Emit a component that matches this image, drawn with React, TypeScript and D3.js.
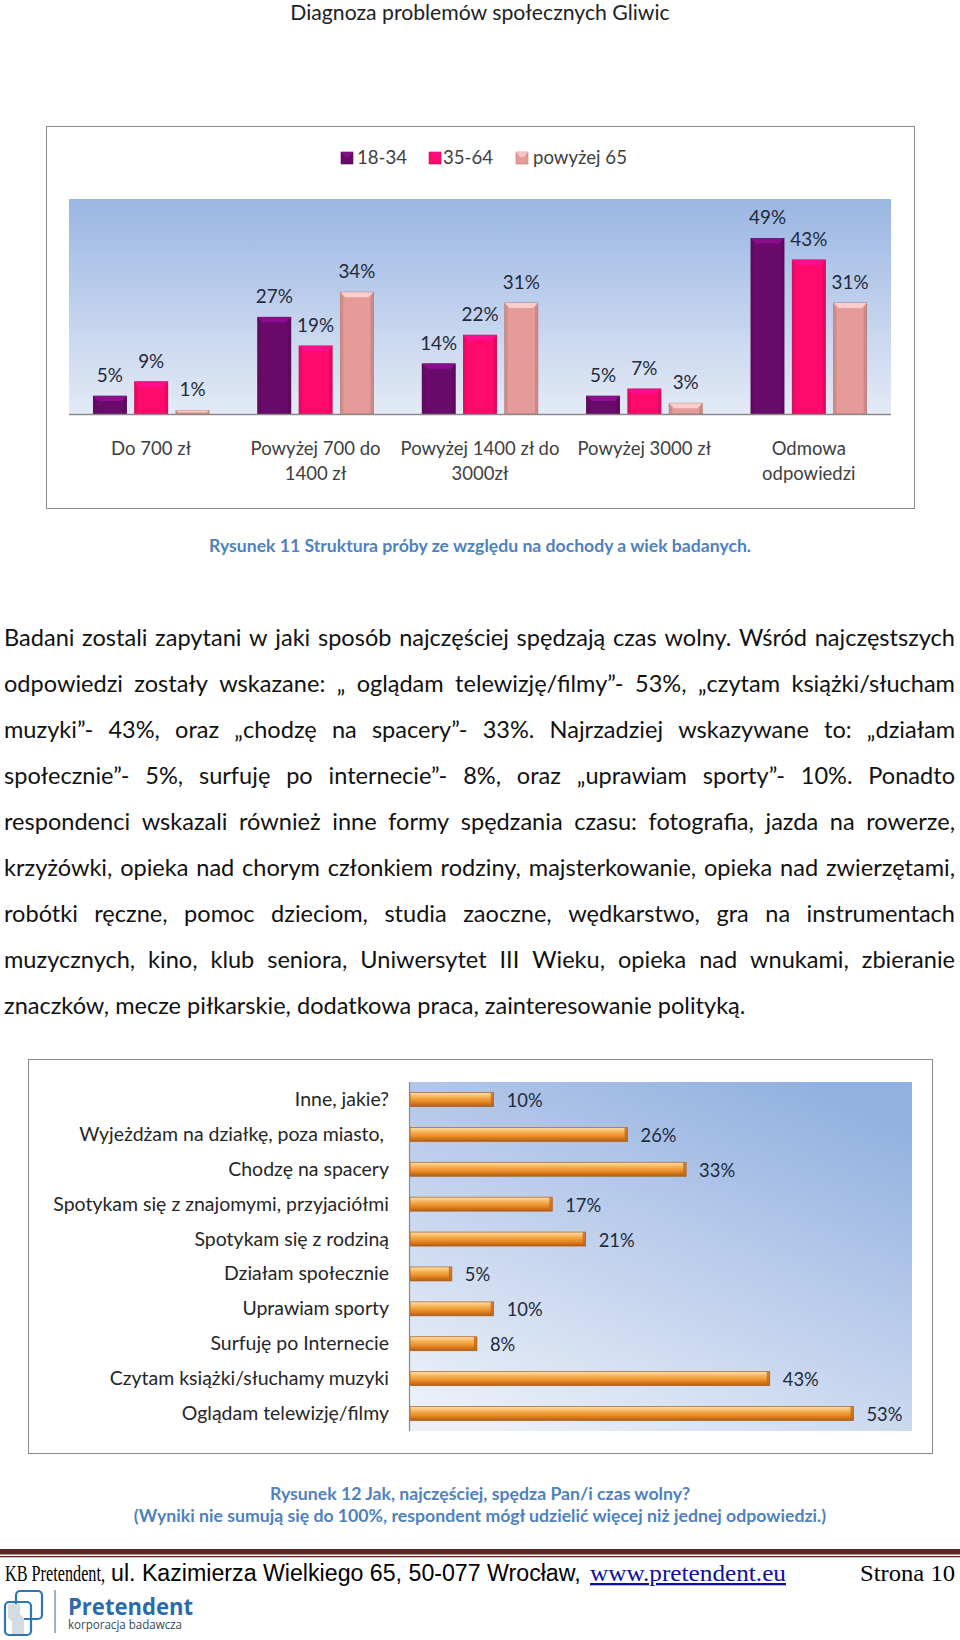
import React, { useMemo } from "react";
import * as d3 from "d3";

// ---------- DATA ----------
const incomeCategories = ["Do 700 zł", "Powyżej 700 do 1400 zł", "Powyżej 1400 zł do 3000zł", "Powyżej 3000 zł", "Odmowa odpowiedzi"];
const incomeLabelLines = [["Do 700 zł"], ["Powyżej 700 do", "1400 zł"], ["Powyżej 1400 zł do", "3000zł"], ["Powyżej 3000 zł"], ["Odmowa", "odpowiedzi"]];
const ageGroups = ["18-34", "35-64", "powyżej 65"];
const values18_34 = [5, 27, 14, 5, 49];
const values35_64 = [9, 19, 22, 7, 43];
const values65plus = [1, 34, 31, 3, 31];

const leisureCategories = [
  "Inne, jakie?",
  "Wyjeżdżam na działkę, poza miasto, ",
  "Chodzę na spacery",
  "Spotykam się z znajomymi, przyjaciółmi",
  "Spotykam się z rodziną",
  "Działam społecznie",
  "Uprawiam sporty",
  "Surfuję po Internecie",
  "Czytam książki/słuchamy muzyki",
  "Oglądam telewizję/filmy",
];
const leisureValues = [10, 26, 33, 17, 21, 5, 10, 8, 43, 53];

const headerText = "Diagnoza problemów społecznych Gliwic";
const caption1 = "Rysunek 11 Struktura próby ze względu na dochody a wiek badanych.";
const caption2a = "Rysunek 12 Jak, najczęściej, spędza Pan/i czas wolny?";
const caption2b = "(Wyniki nie sumują się do 100%, respondent mógł udzielić więcej niż jednej odpowiedzi.)";
const paragraphLines = [
  "Badani zostali zapytani w jaki sposób najczęściej spędzają czas wolny. Wśród najczęstszych",
  "odpowiedzi zostały wskazane: „ oglądam telewizję/filmy”- 53%, „czytam książki/słucham",
  "muzyki”- 43%, oraz „chodzę na spacery”- 33%. Najrzadziej wskazywane to: „działam",
  "społecznie”- 5%, surfuję po internecie”- 8%, oraz „uprawiam sporty”- 10%.  Ponadto",
  "respondenci wskazali również inne formy spędzania czasu: fotografia, jazda na rowerze,",
  "krzyżówki, opieka nad chorym członkiem rodziny, majsterkowanie, opieka nad zwierzętami,",
  "robótki ręczne, pomoc dzieciom, studia zaoczne, wędkarstwo, gra na instrumentach",
  "muzycznych, kino, klub seniora, Uniwersytet III Wieku, opieka nad wnukami, zbieranie",
  "znaczków, mecze piłkarskie, dodatkowa praca, zainteresowanie polityką.",
];
const footerSerif = "KB Pretendent,";
const footerSans = "ul. Kazimierza Wielkiego 65, 50-077 Wrocław,";
const footerLink = "www.pretendent.eu";
const footerPage = "Strona 10";

// ---------- helpers ----------
let ctx: CanvasRenderingContext2D | null = null;
function textW(t: string, size: number, family: string, weight: string | number = "normal") {
  if (!ctx) ctx = document.createElement("canvas").getContext("2d");
  ctx!.font = `${weight} ${size}px ${family}`;
  return ctx!.measureText(t).width;
}
function fit(t: string, target: number, family: string, weight: string | number = "normal") {
  return (100 * target) / textW(t, 100, family, weight);
}

const SANS = "Lato";

function shade(c: string, k: number) {
  const col = d3.color(c)!;
  return k > 0 ? col.brighter(k).formatHex() : col.darker(-k).formatHex();
}

export default function App() {
  const sizes = useMemo(() => {
    return {
      header: fit(headerText, 380, SANS),
      cap1: fit(caption1, 544, SANS, "bold"),
      cap2: fit(caption2b, 694, SANS, "bold"),
      para: fit(paragraphLines[8], 742, SANS),
      legend: fit("powyżej 65", 94, SANS),
      val1: fit("43%", 37, SANS),
      xlab: fit("Powyżej 3000 zł", 134, SANS),
      cat2: fit("Spotykam się z znajomymi, przyjaciółmi", 336, SANS),
      val2: fit("26%", 36, SANS),
      fSans: fit(footerSans, 470, "Liberation Sans"),
    };
  }, []);

  // paragraph justified layout
  const paraLayout = useMemo(() => {
    const fs = sizes.para;
    const left = 4, right = 955;
    return paragraphLines.map((line, i) => {
      const words = line.split(/\s+/).filter((w) => w.length);
      const widths = words.map((w) => textW(w, fs, SANS));
      const total = widths.reduce((a, b) => a + b, 0);
      const last = i === paragraphLines.length - 1;
      const gap = last ? textW(" ", fs, SANS) : (right - left - total) / (words.length - 1);
      let x = left;
      return words.map((w, j) => {
        const pos = x;
        x += widths[j] + gap;
        return { w, x: pos };
      });
    });
  }, [sizes]);

  // ---------- chart 1 scales ----------
  const c1 = { left: 69, right: 891, top: 199, base: 414 };
  const x0 = d3.scaleBand().domain(incomeCategories).range([c1.left, c1.right]).padding(0);
  const x1 = d3.scaleBand().domain(ageGroups).range([0, x0.bandwidth()]).paddingInner(0.2).paddingOuter(0.59);
  const y1 = d3.scaleLinear().domain([0, 60]).range([c1.base, c1.top]);
  const series = [values18_34, values35_64, values65plus];
  const ageColors = ["#6A0B6B", "#FF0A6C", "#E59C99"];

  // ---------- chart 2 scales ----------
  const c2 = { left: 410, right: 912, top: 1082, bottom: 1431 };
  const yb = d3.scaleBand().domain(leisureCategories).range([c2.top, c2.bottom]).paddingInner(0.6).paddingOuter(0.3);
  const xl = d3.scaleLinear().domain([0, 60]).range([c2.left, c2.right]);

  const bev = 5;
  const fs = sizes.fSans;

  return (
    <svg width={960} height={1640} style={{ position: "absolute", left: 0, top: 0, display: "block", background: "#fff" }}>
      <defs>
        <linearGradient id="bg1" x1="0" y1="0" x2="0" y2="1">
          <stop offset="0" stopColor="#9AB6E3" />
          <stop offset="1" stopColor="#E4EAF6" />
        </linearGradient>
        <linearGradient id="bg2" x1="0.2" y1="1" x2="0.8" y2="0">
          <stop offset="0" stopColor="#EAEFF8" />
          <stop offset="1" stopColor="#92B0E0" />
        </linearGradient>
        <linearGradient id="orange" x1="0" y1="0" x2="0" y2="1">
          <stop offset="0" stopColor="#FFE3AE" />
          <stop offset="0.3" stopColor="#F7B45A" />
          <stop offset="0.65" stopColor="#E98A25" />
          <stop offset="1" stopColor="#B45C12" />
        </linearGradient>
      </defs>

      {/* header */}
      <text x={480} y={20} textAnchor="middle" fontFamily={SANS} fontSize={sizes.header} fill="#222">{headerText}</text>

      {/* ---------- chart 1 ---------- */}
      <rect x={46.5} y={126.5} width={868} height={382} fill="#fff" stroke="#8c8c8c" strokeWidth={1} />
      <rect x={c1.left} y={c1.top} width={c1.right - c1.left} height={c1.base - c1.top} fill="url(#bg1)" />

      {/* legend */}
      {ageGroups.map((g, i) => {
        const sx = [341, 429, 516][i];
        const tx = [357, 443, 533][i];
        return (
          <g key={g}>
            <rect x={sx} y={152} width={12} height={12} fill={ageColors[i]} stroke={shade(ageColors[i], -0.6)} strokeWidth={0.6} />
            <polygon points={`${sx},152 ${sx + 12},152 ${sx + 8},157 ${sx + 4},157`} fill={shade(ageColors[i], 0.8)} opacity={0.8} />
            <text x={tx} y={164} fontFamily={SANS} fontSize={sizes.legend} fill="#404040">{g}</text>
          </g>
        );
      })}

      {incomeCategories.map((cat, ci) => (
        <g key={cat}>
          {ageGroups.map((g, gi) => {
            const v = series[gi][ci];
            const x = x0(cat)! + x1(g)!;
            const w = x1.bandwidth();
            const yt = y1(v);
            const h = c1.base - yt;
            const col = ageColors[gi];
            const b = Math.min(bev, h / 2);
            return (
              <g key={g}>
                <rect x={x} y={yt} width={w} height={h} fill={col} stroke={shade(col, -0.7)} strokeWidth={0.8} />
                <polygon points={`${x},${yt} ${x + 3},${yt + b} ${x + 3},${c1.base} ${x},${c1.base}`} fill={shade(col, -0.4)} opacity={0.7} />
                <polygon points={`${x + w},${yt} ${x + w - 3},${yt + b} ${x + w - 3},${c1.base} ${x + w},${c1.base}`} fill={shade(col, -0.5)} opacity={0.7} />
                <polygon points={`${x},${yt} ${x + w},${yt} ${x + w - b},${yt + b} ${x + b},${yt + b}`} fill={shade(col, 0.9)} opacity={0.85} />
                <text x={x + w / 2} y={yt - 14} textAnchor="middle" fontFamily={SANS} fontSize={sizes.val1} fill="#1f2a3c">{v}%</text>
              </g>
            );
          })}
          {incomeLabelLines[ci].map((ln, li) => (
            <text key={li} x={x0(cat)! + x0.bandwidth() / 2} y={455 + li * 25} textAnchor="middle" fontFamily={SANS} fontSize={sizes.xlab} fill="#404040">{ln}</text>
          ))}
        </g>
      ))}
      <line x1={c1.left} x2={c1.right} y1={c1.base + 0.5} y2={c1.base + 0.5} stroke="#8a8a8a" strokeWidth={1.5} />

      {/* caption 1 */}
      <text x={480} y={552} textAnchor="middle" fontFamily={SANS} fontWeight="bold" fontSize={sizes.cap1} fill="#4F81BD">{caption1}</text>

      {/* paragraph */}
      {paraLayout.map((words, i) => (
        <text key={i} y={646 + i * 46} fontFamily={SANS} fontSize={sizes.para} fill="#111">
          {words.map((wd, j) => (
            <tspan key={j} x={wd.x}>{wd.w}</tspan>
          ))}
        </text>
      ))}

      {/* ---------- chart 2 ---------- */}
      <rect x={28.5} y={1059.5} width={904} height={394} fill="#fff" stroke="#8c8c8c" strokeWidth={1} />
      <rect x={c2.left} y={c2.top} width={c2.right - c2.left} height={c2.bottom - c2.top} fill="url(#bg2)" />
      {leisureCategories.map((cat, i) => {
        const v = leisureValues[i];
        const y = yb(cat)!;
        const h = yb.bandwidth();
        const xe = xl(v);
        const cy = y + h / 2;
        return (
          <g key={cat}>
            <rect x={c2.left} y={y} width={xe - c2.left} height={h} fill="url(#orange)" stroke="#A85A18" strokeWidth={0.7} />
            <rect x={xe - 3} y={y} width={3} height={h} fill="#C06A1E" opacity={0.8} />
            <text x={389} y={cy + 6.5} textAnchor="end" fontFamily={SANS} fontSize={sizes.cat2} fill="#262626" style={{ whiteSpace: "pre" }}>{cat}</text>
            <text x={xe + 13} y={cy + 7.5} fontFamily={SANS} fontSize={sizes.val2} fill="#1f2a3c">{v}%</text>
          </g>
        );
      })}
      <line x1={c2.left - 0.5} x2={c2.left - 0.5} y1={c2.top} y2={c2.bottom} stroke="#8a8a8a" strokeWidth={1.2} />

      {/* caption 2 */}
      <text x={480} y={1500} textAnchor="middle" fontFamily={SANS} fontWeight="bold" fontSize={sizes.cap2} fill="#4F81BD">{caption2a}</text>
      <text x={480} y={1522} textAnchor="middle" fontFamily={SANS} fontWeight="bold" fontSize={sizes.cap2} fill="#4F81BD">{caption2b}</text>

      {/* footer rule */}
      <rect x={0} y={1549} width={960} height={5.5} fill="#622423" />
      <rect x={0} y={1556} width={960} height={1.3} fill="#622423" />

      {/* footer text */}
      <text x={5} y={1581} fontFamily="Liberation Serif" fontSize={fs} fill="#000" textLength={100} lengthAdjust="spacingAndGlyphs">{footerSerif}</text>
      <text x={111} y={1581} fontFamily="Liberation Sans" fontSize={fs} fill="#000">{footerSans}</text>
      <text x={590} y={1581} fontFamily="Liberation Serif" fontSize={fs} fill="#1010A0" textDecoration="underline" textLength={196} lengthAdjust="spacingAndGlyphs">{footerLink}</text>
      <text x={860} y={1581} fontFamily="Liberation Serif" fontSize={fs} fill="#000" textLength={95} lengthAdjust="spacingAndGlyphs">{footerPage}</text>

      {/* logo */}
      <g>
        <rect x={16} y={1591} width={26} height={28} rx={4} fill="none" stroke="#2E75B6" strokeWidth={2.2} />
        <path d="M8,1604 L20,1604 L20,1614 L24,1618 L24,1634 L12,1634 L12,1622 L8,1618 Z" fill="#D5DBE3" />
        <rect x={5} y={1602} width={26} height={33} rx={4} fill="none" stroke="#2E75B6" strokeWidth={2.2} />
        <line x1={55} x2={55} y1={1590} y2={1633} stroke="#4A7FB0" strokeWidth={1.2} />
        <text x={68} y={1615} fontFamily="Open Sans" fontWeight="bold" fontSize={24} fill="#2B6CA8" textLength={125} lengthAdjust="spacingAndGlyphs">Pretendent</text>
        <text x={68} y={1629} fontFamily="Open Sans" fontSize={12} fill="#33475B" textLength={114} lengthAdjust="spacingAndGlyphs">korporacja badawcza</text>
      </g>
    </svg>
  );
}
